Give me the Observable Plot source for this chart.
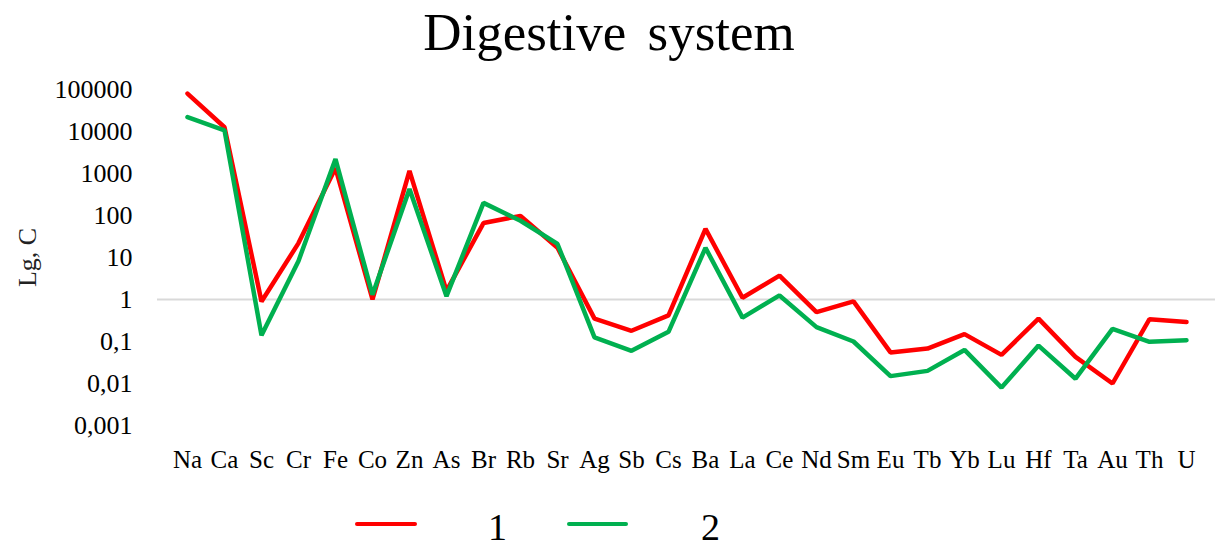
<!DOCTYPE html>
<html>
<head>
<meta charset="utf-8">
<script src="https://cdn.jsdelivr.net/npm/d3@7"></script>
<script src="https://cdn.jsdelivr.net/npm/@observablehq/plot@0.6"></script>
<style>
  html, body { margin: 0; padding: 0; background: #fff; }
  #wrap { position: relative; width: 1218px; height: 549px; font-family: "Liberation Serif", "Times New Roman", serif; color: #000; }
  #title { position: absolute; left: 0; width: 1218px; top: 6px; text-align: center; font-size: 53px; word-spacing: 8px; line-height: 1; }
  .legline { position: absolute; height: 4px; border-radius: 2px; }
  .legtxt { position: absolute; font-size: 38px; line-height: 38px; height: 38px; }
  #chart { position: absolute; left: 0; top: 0; }
</style>
</head>
<body>
<div id="wrap">
  <div id="chart"></div>
  <div id="title">Digestive system</div>
  <div class="legline" style="left:355px;top:522px;width:62px;background:#ff0000;"></div>
  <div class="legtxt" style="left:488px;top:508px;">1</div>
  <div class="legline" style="left:567px;top:522px;width:61px;background:#00b050;"></div>
  <div class="legtxt" style="left:701px;top:508px;">2</div>
</div>
<script>
const elements = ["Na","Ca","Sc","Cr","Fe","Co","Zn","As","Br","Rb","Sr","Ag","Sb","Cs","Ba","La","Ce","Nd","Sm","Eu","Tb","Yb","Lu","Hf","Ta","Au","Th","U"];
const series1 = [80000,12600,0.9,22,1350,1.0,1150,1.6,66,98,17,0.35,0.18,0.42,48,1.1,3.7,0.5,0.9,0.055,0.068,0.15,0.048,0.35,0.043,0.01,0.34,0.29];
const series2 = [22000,10700,0.14,8.3,2200,1.3,430,1.2,200,75,21,0.125,0.06,0.17,17,0.37,1.25,0.22,0.1,0.015,0.02,0.063,0.008,0.08,0.013,0.2,0.098,0.107];
const yTicks = [0.001,0.01,0.1,1,10,100,1000,10000,100000];
const seriesNames = ["1","2"];
const seriesColors = ["#ff0000","#00b050"];

const data = [];
elements.forEach((el, i) => {
  data.push({el, v: series1[i], s: seriesNames[0]});
  data.push({el, v: series2[i], s: seriesNames[1]});
});

const fmt = d => String(d).replace(".", ",");

const chart = Plot.plot({
  width: 1218,
  height: 549,
  marginTop: 89,
  marginBottom: 124,
  marginLeft: 157,
  marginRight: 3,
  style: {fontFamily: "'Liberation Serif', 'Times New Roman', serif", background: "transparent"},
  x: {type: "point", domain: elements, padding: 0.5},
  y: {type: "log", domain: [0.001, 100000]},
  color: {domain: seriesNames, range: seriesColors},
  marks: [
    Plot.ruleY([1], {stroke: "#d9d9d9", strokeWidth: 2}),
    Plot.line(data, {x: "el", y: "v", z: "s", stroke: "s", strokeWidth: 4.5, strokeLinejoin: "miter"}),
    Plot.axisX({tickSize: 0, tickPadding: 25, fontSize: 25, label: null, fill: "#000"}),
    Plot.axisY({ticks: yTicks, tickFormat: fmt, tickSize: 0, tickPadding: 25, fontSize: 26, label: null, fill: "#000"}),
    Plot.text(["Lg, C"], {frameAnchor: "left", textAnchor: "middle", dx: -130, rotate: -90, fontSize: 26, fill: "#222"})
  ]
});
document.getElementById("chart").appendChild(chart);
</script>
</body>
</html>
